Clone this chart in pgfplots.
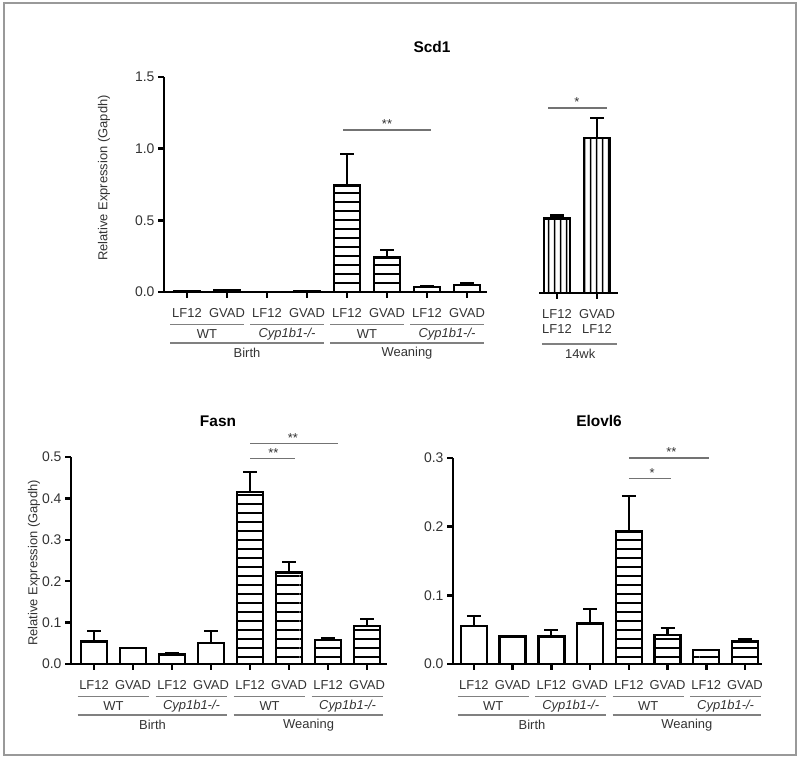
\documentclass[border=0pt]{standalone}
\usepackage{fontspec}
\setmainfont{Liberation Sans}
\usepackage{pgfplots}
\pgfplotsset{compat=1.18}
\usetikzlibrary{patterns}

\definecolor{txt}{gray}{0.2}
\definecolor{sig}{gray}{0.45}
\definecolor{linegray}{gray}{0.5}
\definecolor{framegray}{gray}{0.6}

\pgfdeclarepatternformonly{hstripes}{\pgfqpoint{0bp}{0bp}}{\pgfqpoint{100bp}{8.5bp}}{\pgfqpoint{100bp}{8.5bp}}{%
  \pgfsetlinewidth{1.8bp}%
  \pgfpathmoveto{\pgfqpoint{0bp}{4.25bp}}%
  \pgfpathlineto{\pgfqpoint{100bp}{4.25bp}}%
  \pgfusepath{stroke}}
\pgfdeclarepatternformonly{vstripes}{\pgfqpoint{0bp}{0bp}}{\pgfqpoint{6bp}{100bp}}{\pgfqpoint{6bp}{100bp}}{%
  \pgfsetlinewidth{1.8bp}%
  \pgfpathmoveto{\pgfqpoint{3bp}{0bp}}%
  \pgfpathlineto{\pgfqpoint{3bp}{100bp}}%
  \pgfusepath{stroke}}

\newcommand{\lblfont}{\fontsize{13}{14.5}\selectfont}

\pgfplotsset{
  prism/.style={
    scale only axis, clip=false,
    axis x line*=bottom, axis y line*=left,
    axis line style={line width=2.5bp, black},
    tick align=outside, major tick length=6bp,
    every tick/.append style={black, line width=2.5bp},
    ybar, bar width=26bp,
    ymin=0, enlargelimits=false,
    xtick={0,...,7},
    xticklabels={LF12,GVAD,LF12,GVAD,LF12,GVAD,LF12,GVAD},
    tick label style={font=\lblfont, text=txt},
    xticklabel style={yshift=-7bp},
    yticklabel style={font=\fontsize{14}{16}\selectfont},
    /pgf/number format/assume math mode=true,
    yticklabel style={/pgf/number format/.cd, fixed, fixed zerofill, precision=1},
  },
  barplot/.style={draw=black, line width=2.4bp, /pgf/bar shift=0pt,
    error bars/y dir=plus, error bars/y explicit,
    error bars/error bar style={line width=2.2bp, black},
    error bars/error mark options={rotate=90, mark size=7bp, line width=2.2bp, black}},
}

\newcommand{\eightgroups}{%
  \draw[linegray, line width=1.2bp] ([yshift=-32.5bp]axis cs:-0.42,0) -- ([yshift=-32.5bp]axis cs:1.42,0);
  \draw[linegray, line width=1.2bp] ([yshift=-32.5bp]axis cs:1.58,0) -- ([yshift=-32.5bp]axis cs:3.42,0);
  \draw[linegray, line width=1.2bp] ([yshift=-32.5bp]axis cs:3.58,0) -- ([yshift=-32.5bp]axis cs:5.42,0);
  \draw[linegray, line width=1.2bp] ([yshift=-32.5bp]axis cs:5.58,0) -- ([yshift=-32.5bp]axis cs:7.42,0);
  \node[font=\lblfont, text=txt] at ([yshift=-42bp]axis cs:0.5,0) {WT};
  \node[font=\lblfont, text=txt] at ([yshift=-42bp]axis cs:2.5,0) {\textit{Cyp1b1-/-}};
  \node[font=\lblfont, text=txt] at ([yshift=-42bp]axis cs:4.5,0) {WT};
  \node[font=\lblfont, text=txt] at ([yshift=-42bp]axis cs:6.5,0) {\textit{Cyp1b1-/-}};
  \draw[linegray, line width=1.2bp] ([yshift=-51bp]axis cs:-0.42,0) -- ([yshift=-51bp]axis cs:3.42,0);
  \draw[linegray, line width=1.2bp] ([yshift=-51bp]axis cs:3.58,0) -- ([yshift=-51bp]axis cs:7.42,0);
  \node[font=\lblfont, text=txt] at ([yshift=-61bp]axis cs:1.5,0) {Birth};
  \node[font=\lblfont, text=txt] at ([yshift=-61bp]axis cs:5.5,0) {Weaning};
}

\begin{document}
\begin{tikzpicture}
\useasboundingbox (0,0) rectangle (800bp,763bp);
\draw[framegray, line width=1.5bp] (4bp,8bp) rectangle (796bp,760bp);

% titles and y labels
\node[font=\fontsize{15.5}{17}\selectfont\bfseries] at (432bp,716bp) {Scd1};
\node[font=\fontsize{15.5}{17}\selectfont\bfseries] at (218bp,342bp) {Fasn};
\node[font=\fontsize{15.5}{17}\selectfont\bfseries] at (599bp,342bp) {Elovl6};
\node[font=\fontsize{13}{15}\selectfont, text=txt, rotate=90] at (104bp,585bp) {Relative Expression (Gapdh)};
\node[font=\fontsize{13}{15}\selectfont, text=txt, rotate=90] at (34bp,200bp) {Relative Expression (Gapdh)};

% ---------------- Scd1 main ----------------
\begin{axis}[prism, at={(164bp,471bp)}, anchor=south west,
  width=323bp, height=215bp, xmin=-0.575, xmax=7.5, ymax=1.5,
  ytick={0,0.5,1,1.5}]
\addplot[fill=white, barplot] table[x=x, y=y, y error=e] {
x y e
0 0.005 0
1 0.010 0.003
2 0.000 0
3 0.003 0
};
\addplot[pattern=hstripes, barplot] table[x=x, y=y, y error=e] {
x y e
4 0.743 0.220
5 0.240 0.054
6 0.035 0.004
7 0.050 0.010
};
\draw[sig, line width=1.2bp] (axis cs:3.9,1.13) -- (axis cs:6.1,1.13);
\node[anchor=south, inner sep=1bp, text=txt, font=\lblfont] at (axis cs:5,1.13) {**};
\eightgroups
\end{axis}

% ---------------- Scd1 14wk ----------------
\begin{axis}[prism, at={(539bp,470bp)}, anchor=south west,
  width=79bp, height=215bp, xmin=-0.45, xmax=1.525, ymax=1.5,
  axis y line=none, xtick={0,1},
  xticklabels={{LF12\\LF12},{GVAD\\LF12}},
  xticklabel style={align=center}]
\addplot[pattern=vstripes, barplot] table[x=x, y=y, y error=e] {
x y e
0 0.52 0.02
1 1.08 0.14
};
\draw[sig, line width=1.2bp] (axis cs:-0.22,1.29) -- (axis cs:1.25,1.29);
\node[anchor=south, inner sep=1bp, text=txt, font=\lblfont] at (axis cs:0.5,1.29) {*};
\draw[linegray, line width=1.2bp] ([yshift=-51bp]axis cs:-0.38,0) -- ([yshift=-51bp]axis cs:1.5,0);
\node[font=\lblfont, text=txt] at ([yshift=-61bp]axis cs:0.58,0) {14wk};
\end{axis}

% ---------------- Fasn ----------------
\begin{axis}[prism, at={(71bp,99bp)}, anchor=south west,
  width=316bp, height=207bp, xmin=-0.59, xmax=7.51, ymax=0.5,
  ytick={0,0.1,0.2,0.3,0.4,0.5}]
\addplot[fill=white, barplot] table[x=x, y=y, y error=e] {
x y e
0 0.054 0.026
1 0.038 0
2 0.023 0.004
3 0.050 0.030
};
\addplot[pattern=hstripes, barplot] table[x=x, y=y, y error=e] {
x y e
4 0.415 0.048
5 0.221 0.026
6 0.058 0.004
7 0.092 0.016
};
\draw[sig, line width=1.2bp] (axis cs:4.0,0.497) -- (axis cs:5.15,0.497);
\node[anchor=south, inner sep=1bp, text=txt, font=\lblfont] at (axis cs:4.6,0.497) {**};
\draw[sig, line width=1.2bp] (axis cs:4.0,0.533) -- (axis cs:6.26,0.533);
\node[anchor=south, inner sep=1bp, text=txt, font=\lblfont] at (axis cs:5.1,0.533) {**};
\eightgroups
\end{axis}

% ---------------- Elovl6 ----------------
\begin{axis}[prism, at={(453bp,99bp)}, anchor=south west,
  width=309bp, height=206bp, xmin=-0.54, xmax=7.44, ymax=0.3,
  ytick={0,0.1,0.2,0.3}]
\addplot[fill=white, barplot] table[x=x, y=y, y error=e] {
x y e
0 0.055 0.015
1 0.040 0
2 0.040 0.010
3 0.059 0.021
};
\addplot[pattern=hstripes, barplot] table[x=x, y=y, y error=e] {
x y e
4 0.193 0.052
5 0.042 0.011
6 0.020 0
7 0.0325 0.004
};
\draw[sig, line width=1.2bp] (axis cs:4.0,0.27) -- (axis cs:5.1,0.27);
\node[anchor=south, inner sep=1bp, text=txt, font=\lblfont] at (axis cs:4.6,0.27) {*};
\draw[sig, line width=1.2bp] (axis cs:4.0,0.30) -- (axis cs:6.07,0.30);
\node[anchor=south, inner sep=1bp, text=txt, font=\lblfont] at (axis cs:5.1,0.30) {**};
\eightgroups
\end{axis}
\end{tikzpicture}
\end{document}
